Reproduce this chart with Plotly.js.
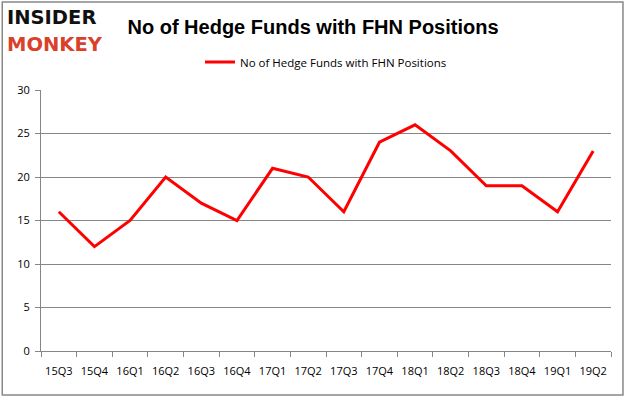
<!DOCTYPE html>
<html>
<head>
<meta charset="utf-8">
<script src="https://cdn.plot.ly/plotly-3.0.1.min.js"></script>
<style>html,body{margin:0;padding:0;background:#fff;}#chart{width:626px;height:397px;}</style>
</head>
<body>
<div id="chart"></div>
<script>
var quarters = ["15Q3","15Q4","16Q1","16Q2","16Q3","16Q4","17Q1","17Q2","17Q3","17Q4","18Q1","18Q2","18Q3","18Q4","19Q1","19Q2"];
var hedgeFunds = [16,12,15,20,17,15,21,20,16,24,26,23,19,19,16,23];
var seriesName = "No of Hedge Funds with FHN Positions";
var yTicks = [0,5,10,15,20,25,30];

var trace = {
  x: quarters, y: hedgeFunds, type: "scatter", mode: "lines", name: seriesName,
  line: {color: "#ff0000", width: 3}
};
var font = {family: "Open Sans, Liberation Sans, sans-serif", size: 11, color: "#000"};
var layout = {
  width: 626, height: 397,
  margin: {l: 41, r: 15, t: 90, b: 46},
  paper_bgcolor: "#fff", plot_bgcolor: "#fff",
  font: font,
  title: {text: "<b>No of Hedge Funds with FHN Positions</b>", x: 0.5, xanchor: "center", y: 0.932, yanchor: "middle",
          font: {family: "Liberation Sans, Arial, sans-serif", size: 20, color: "#000"}},
  showlegend: true,
  legend: {orientation: "h", x: 0.5, xanchor: "center", y: 1.107, yanchor: "middle", font: {size: 11.5}},
  xaxis: {type: "category", range: [-0.5, 15.5], tickson: "boundaries", ticks: "outside", ticklen: 5,
          tickcolor: "#868686", showline: true, linecolor: "#868686", linewidth: 1, showgrid: false,
          tickangle: 0, tickfont: {size: 11}, ticklabelstandoff: 10, zeroline: false},
  yaxis: {range: [0, 30], tickvals: yTicks, ticks: "outside", ticklen: 5, tickcolor: "#868686",
          showline: true, linecolor: "#868686", showgrid: true, gridcolor: "#868686", gridwidth: 1,
          ticklabelstandoff: 3, zeroline: false, tickfont: {size: 11}},
  shapes: [{type: "rect", xref: "paper", yref: "paper", x0: -0.068, x1: 1.021, y0: -0.169, y1: 1.337,
            line: {color: "#888", width: 1.5}, fillcolor: "rgba(0,0,0,0)"}],
  annotations: [
    {text: "<b>INSIDER</b>", xref: "paper", yref: "paper", x: -0.063, y: 1.3295, xanchor: "left", yanchor: "top",
     showarrow: false, font: {family: "DejaVu Sans, sans-serif", size: 19.5, color: "#111"}},
    {text: "<b>MONKEY</b>", xref: "paper", yref: "paper", x: -0.063, y: 1.226, xanchor: "left", yanchor: "top",
     showarrow: false, font: {family: "DejaVu Sans, sans-serif", size: 19.5, color: "#d9412a"}}
  ]
};
Plotly.newPlot("chart", [trace], layout, {displayModeBar: false, staticPlot: true});
</script>
</body>
</html>
